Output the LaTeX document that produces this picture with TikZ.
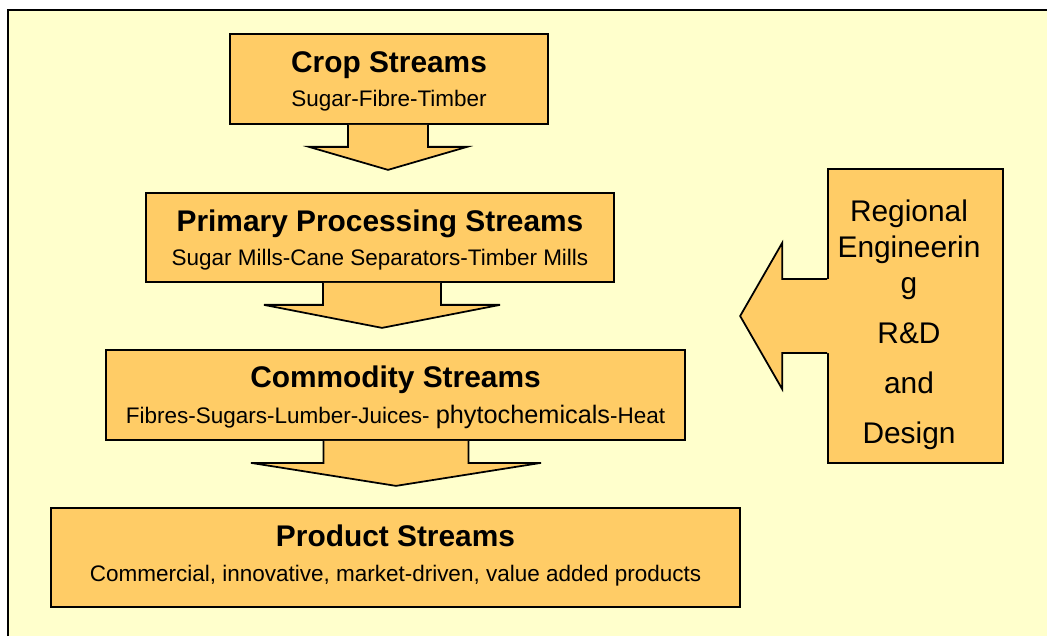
\documentclass[tikz,border=0pt]{standalone}
\usepackage{fontspec}
\setmainfont{Liberation Sans}
\usetikzlibrary{calc}
\definecolor{bgyellow}{HTML}{FFFFCC}
\definecolor{boxorange}{HTML}{FFCC66}

% block arrow below a box: node, x shift, shaft half-width, head half-width
\newcommand{\blockdown}[4]{%
  \fill[boxorange] ($(#1.south)+(#2-#3,0)$) -- ($(#1.south)+(#2-#3,22)$) -- ($(#1.south)+(#2-#4,22)$)
    -- ($(#1.south)+(#2,45)$) -- ($(#1.south)+(#2+#4,22)$) -- ($(#1.south)+(#2+#3,22)$) -- ($(#1.south)+(#2+#3,0)$) -- cycle;
  \draw[blockline] ($(#1.south)+(#2-#3,0)$) -- ($(#1.south)+(#2-#3,22)$) -- ($(#1.south)+(#2-#4,22)$)
    -- ($(#1.south)+(#2,45)$) -- ($(#1.south)+(#2+#4,22)$) -- ($(#1.south)+(#2+#3,22)$) -- ($(#1.south)+(#2+#3,0)$);}

\begin{document}
\begin{tikzpicture}[
    x=0.02cm, y=-0.02cm,
    stream/.style={draw, line width=1pt, fill=boxorange, align=center, inner sep=0pt,
                   font=\fontsize{12.8}{15}\selectfont},
    blockline/.style={line width=1pt, line join=miter}
]
    \useasboundingbox (0,0) rectangle (1047,636);
    % Background sheet
    \fill[bgyellow] (8,10) rectangle (1047,636);
    \draw[line width=1.2pt] (8,636) -- (8,10) -- (1047,10);

    % Stream boxes
    \node[stream, minimum width=6.36cm, minimum height=1.8cm] (crop) at (389,79)
        {{\fontsize{17}{20}\selectfont\bfseries\rule{0pt}{15pt}Crop Streams}\\[4.5pt]Sugar-Fibre-Timber};
    \node[stream, minimum width=9.36cm, minimum height=1.78cm] (primary) at (380,237.5)
        {{\fontsize{17}{20}\selectfont\bfseries\rule{0pt}{15pt}Primary Processing Streams}\\[4.5pt]Sugar Mills-Cane Separators-Timber Mills};
    \node[stream, minimum width=11.58cm, minimum height=1.8cm] (commodity) at (395.5,395)
        {{\fontsize{17}{20}\selectfont\bfseries\rule{0pt}{15pt}Commodity Streams}\\[5.5pt]Fibres-Sugars-Lumber-Juices- {\fontsize{14.4}{15}\selectfont phytochemicals}-Heat};
    \node[stream, minimum width=13.78cm, minimum height=1.98cm] (product) at (395.5,557.5)
        {{\fontsize{17}{20}\selectfont\bfseries Product Streams}\\[4.5pt]Commercial, innovative, market-driven, value added products\\[-10pt]\mbox{}};

    % Right box
    \node[stream, minimum width=3.5cm, minimum height=5.88cm] (regional) at (915.5,316) {};
    \node[align=center, inner sep=0pt, font=\fontsize{17}{20.5}\selectfont] (regionaltext) at (909,325)
        {Regional\\Engineerin\\g\\[8pt]R\&D\\[8pt]and\\[8pt]Design};

    % Block arrows
    \blockdown{crop}{-1}{40}{79}
    \blockdown{primary}{2}{59}{118}
    \blockdown{commodity}{0.5}{72.5}{145}

    \fill[boxorange] ($(regional.west)+(3,-37)$) -- ($(regional.west)+(-45,-37)$) -- ($(regional.west)+(-45,-73)$)
        -- ($(regional.west)+(-87,0)$) -- ($(regional.west)+(-45,73)$) -- ($(regional.west)+(-45,37)$) -- ($(regional.west)+(3,37)$) -- cycle;
    \draw[blockline] ($(regional.west)+(0,-37)$) -- ($(regional.west)+(-45,-37)$) -- ($(regional.west)+(-45,-73)$)
        -- ($(regional.west)+(-87,0)$) -- ($(regional.west)+(-45,73)$) -- ($(regional.west)+(-45,37)$) -- ($(regional.west)+(0,37)$);
\end{tikzpicture}
\end{document}
